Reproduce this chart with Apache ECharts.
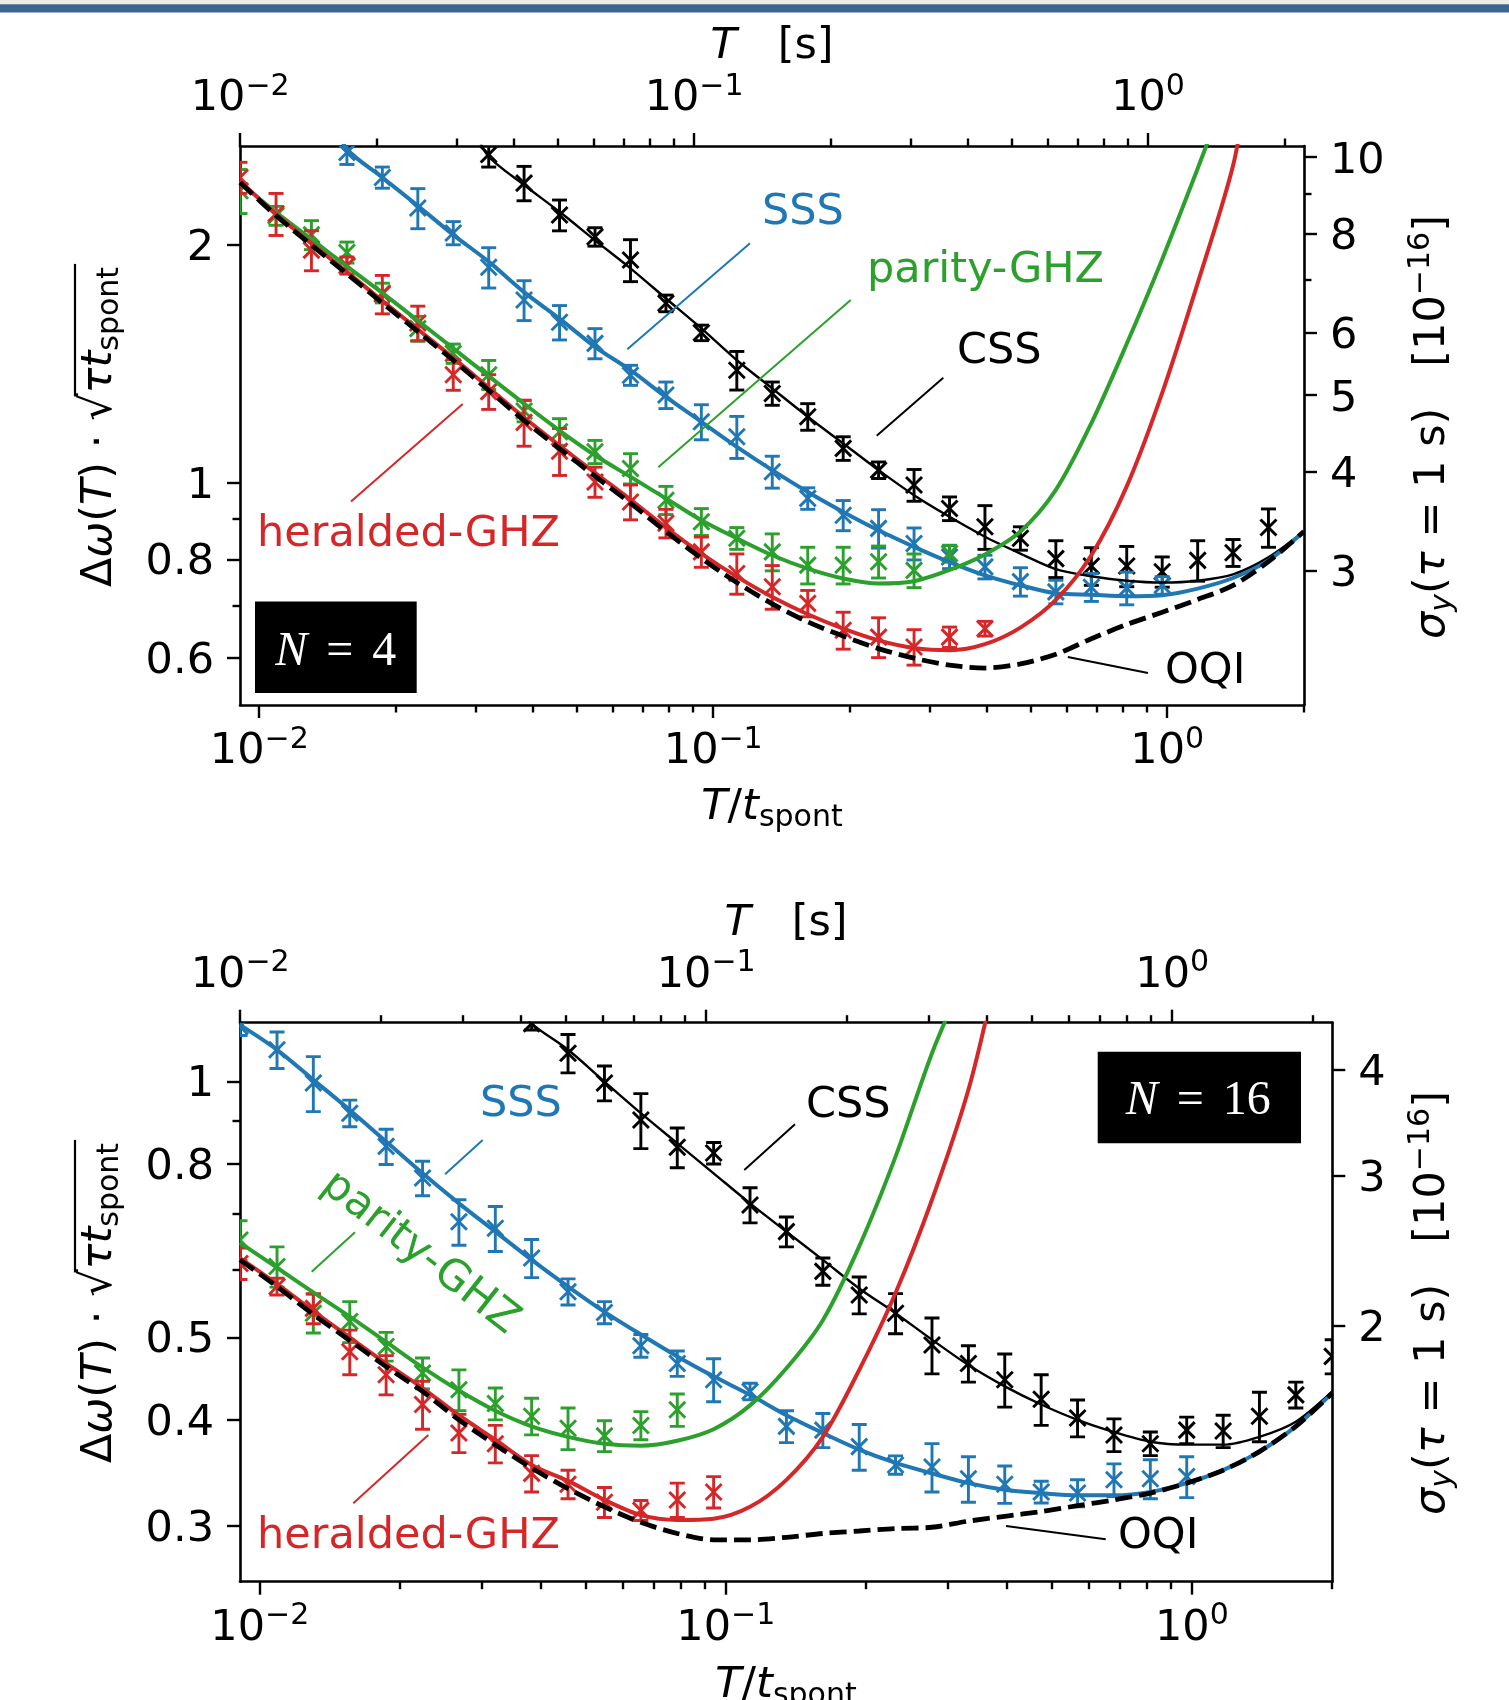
<!DOCTYPE html>
<html><head><meta charset="utf-8">
<script src="https://cdn.jsdelivr.net/npm/echarts@6/dist/echarts.min.js"></script>
<style>html,body{margin:0;padding:0;background:#fff}#c{width:1509px;height:1700px}</style>
</head><body><div id="c"></div><script>
// ---------------- DATA ----------------
// sampling times T/t_spont (shared by both panels)
const T_GRID = [0.00907,0.01089,0.01303,0.01560,0.01867,0.02235,0.02675,0.03202,0.03831,0.04586,0.05490,0.06572,0.07867,0.09415,0.1127,0.1349,0.1615,0.1933,0.2313,0.2769,0.3315,0.3967,0.4749,0.5684,0.6805,0.8143,0.9748,1.167,1.396,1.671,2.0];

// ---- N = 4 measurements (start index into T_GRID) ----
const N4_HER_START = 0;
const N4_HER_Y   = [2.436,2.191,1.971,1.885,1.734,1.594,1.371,1.305,1.193,1.097,1.003,0.946,0.889,0.818,0.768,0.739,0.704,0.651,0.638,0.620,0.638,0.654];
const N4_HER_ERR = [0.11,0.134,0.115,0.047,0.097,0.08,0.061,0.066,0.08,0.075,0.044,0.048,0.037,0.036,0.045,0.047,0.027,0.035,0.037,0.032,0.019,0.014];
const N4_PAR_START = 0;
const N4_PAR_Y   = [2.343,2.179,2.061,1.958,1.74,1.568,1.458,1.371,1.233,1.161,1.095,1.043,0.951,0.893,0.851,0.818,0.787,0.787,0.795,0.775,0.814];
const N4_PAR_ERR = [0.15,0.06,0.087,0.06,0.05,0.057,0.041,0.058,0.038,0.045,0.037,0.046,0.039,0.035,0.027,0.044,0.042,0.042,0.037,0.038,0.02];
const N4_SSS_START = 3;
const N4_SSS_Y   = [2.62,2.436,2.228,2.072,1.875,1.704,1.597,1.502,1.369,1.292,1.195,1.144,1.033,0.956,0.910,0.876,0.838,0.806,0.783,0.750,0.728,0.738,0.736,0.742];
const N4_SSS_ERR = [0.09,0.075,0.13,0.07,0.11,0.099,0.08,0.066,0.04,0.05,0.061,0.07,0.048,0.03,0.04,0.049,0.039,0.027,0.027,0.031,0.025,0.03,0.035,0.019];
const N4_CSS_START = 7;
const N4_CSS_Y   = [2.605,2.396,2.183,2.049,1.915,1.688,1.549,1.389,1.298,1.213,1.106,1.038,0.994,0.928,0.880,0.851,0.802,0.785,0.785,0.772,0.798,0.816,0.878];
const N4_CSS_ERR = [0.094,0.12,0.098,0.055,0.117,0.041,0.035,0.078,0.044,0.047,0.038,0.025,0.046,0.032,0.056,0.029,0.043,0.043,0.046,0.034,0.047,0.032,0.049];

// ---- N = 4 model curves ----
const N4_HER_FIT  = [2.41,2.19,2.01,1.85,1.70,1.565,1.44,1.32,1.21,1.115,1.03,0.953,0.878,0.814,0.761,0.717,0.682,0.654,0.632,0.618,0.614,0.625,0.656,0.711,0.81,0.99,1.30,1.79,2.52];
const N4_HER_TAIL = [[1.50,3.2]];
const N4_PAR_FIT  = [2.40,2.20,2.035,1.88,1.74,1.605,1.48,1.365,1.26,1.165,1.084,1.018,0.956,0.897,0.851,0.810,0.779,0.757,0.746,0.751,0.776,0.812,0.868,0.98];
const N4_PAR_TAIL = [[0.6805,1.19],[0.8143,1.50],[0.9748,1.92],[1.167,2.50],[1.30,2.95]];
const N4_SSS_HEAD = [[0.01477,2.85]];
const N4_SSS_FIT  = [2.646,2.436,2.243,2.061,1.906,1.744,1.614,1.487,1.389,1.285,1.195,1.111,1.038,0.974,0.919,0.871,0.830,0.794,0.764,0.742,0.725,0.722,0.719,0.721,0.735,0.758,0.798,0.868];
const N4_CSS_HEAD = [[0.02979,2.8]];
const N4_CSS_FIT  = [2.589,2.383,2.204,2.028,1.869,1.712,1.569,1.430,1.317,1.213,1.122,1.038,0.965,0.906,0.855,0.814,0.778,0.762,0.752,0.748,0.752,0.766,0.805,0.868];
const N4_OQI      = [2.40,2.18,2.00,1.84,1.69,1.555,1.43,1.31,1.20,1.105,1.02,0.943,0.868,0.803,0.748,0.703,0.667,0.640,0.617,0.600,0.588,0.583,0.590,0.607,0.635,0.662,0.686,0.712,0.742,0.795,0.868];

// ---- N = 16 measurements ----
const N16_HER_START = 0;
const N16_HER_Y   = [0.611,0.574,0.541,0.481,0.452,0.417,0.386,0.375,0.346,0.336,0.320,0.313,0.322,0.329];
const N16_HER_ERR = [0.026,0.013,0.022,0.029,0.024,0.027,0.020,0.019,0.017,0.013,0.013,0.0085,0.015,0.014];
const N16_PAR_START = 0;
const N16_PAR_Y   = [0.651,0.606,0.534,0.522,0.488,0.454,0.434,0.418,0.404,0.391,0.383,0.394,0.411];
const N16_PAR_ERR = [0.035,0.033,0.028,0.029,0.019,0.019,0.024,0.018,0.020,0.022,0.016,0.015,0.018];
const N16_SSS_START = 0;
const N16_SSS_Y   = [1.161,1.090,0.996,0.918,0.839,0.770,0.684,0.672,0.620,0.566,0.535,0.489,0.466,0.446,0.432,0.393,0.389,0.372,0.354,0.352,0.341,0.336,0.329,0.328,0.340,0.341,0.343];
const N16_SSS_ERR = [0.028,0.054,0.074,0.033,0.040,0.036,0.042,0.041,0.032,0.020,0.016,0.015,0.016,0.026,0.0097,0.017,0.018,0.023,0.0088,0.023,0.021,0.017,0.0097,0.012,0.015,0.018,0.019];
const N16_CSS_START = 8;
const N16_CSS_Y   = [1.17,1.080,0.996,0.901,0.837,0.824,0.716,0.666,0.598,0.561,0.534,0.490,0.466,0.446,0.423,0.402,0.384,0.375,0.389,0.388,0.404,0.428,0.475];
const N16_CSS_ERR = [0.02,0.056,0.047,0.067,0.045,0.024,0.034,0.027,0.022,0.028,0.029,0.037,0.023,0.032,0.029,0.020,0.017,0.012,0.014,0.017,0.027,0.015,0.022];

// ---- N = 16 model curves ----
const N16_HER_FIT  = [0.620,0.578,0.537,0.500,0.466,0.436,0.405,0.379,0.354,0.339,0.322,0.309,0.305,0.306,0.316,0.340,0.382,0.458,0.564,0.726,0.978];
const N16_HER_TAIL = [[0.3758,1.30]];
const N16_PAR_FIT  = [0.646,0.604,0.565,0.529,0.494,0.461,0.433,0.410,0.393,0.382,0.375,0.373,0.378,0.390,0.416,0.460,0.524,0.640,0.816,1.08];
const N16_PAR_TAIL = [[0.3197,1.30]];
const N16_SSS_FIT  = [1.166,1.090,1.005,0.926,0.850,0.780,0.719,0.666,0.617,0.574,0.536,0.504,0.475,0.450,0.428,0.405,0.386,0.369,0.356,0.346,0.337,0.331,0.328,0.326,0.326,0.329,0.337,0.349,0.367,0.393,0.430];
const N16_CSS_HEAD = [[0.0363,1.22]];
const N16_CSS_FIT  = [1.17,1.090,1.000,0.918,0.846,0.780,0.719,0.666,0.617,0.571,0.534,0.497,0.464,0.438,0.417,0.400,0.387,0.377,0.374,0.374,0.382,0.398,0.432];
const N16_OQI      = [0.617,0.574,0.532,0.496,0.462,0.432,0.400,0.374,0.351,0.332,0.316,0.303,0.294,0.289,0.289,0.291,0.294,0.296,0.298,0.299,0.304,0.308,0.312,0.317,0.322,0.328,0.337,0.349,0.367,0.393,0.430];

// ---- axes ----
const X_MIN = 0.00907, X_MAX = 2.001;
const T_MIN = 0.00999, T_MAX = 2.206;          // T [s] top axis
const X_MAJOR = [0.01, 0.1, 1];
const X_MINOR = [0.02,0.03,0.04,0.05,0.06,0.07,0.08,0.09,0.2,0.3,0.4,0.5,0.6,0.7,0.8,0.9,2];
const N4_Y_RANGE = [0.5235, 2.670];
const N4_Y_MAJOR = [0.6, 0.8, 1, 2];
const N4_Y_MINOR = [0.7, 0.9];
const N4_R_RANGE = [2.026, 10.333];
const N4_R_MAJOR = [3, 4, 5, 6, 8, 10];
const N4_R_MINOR = [7, 9];
const N16_Y_RANGE = [0.258, 1.173];
const N16_Y_MAJOR = [0.3, 0.4, 0.5, 0.8, 1];
const N16_Y_MINOR = [0.6, 0.7, 0.9];
const N16_R_RANGE = [0.9985, 4.539];
const N16_R_MAJOR = [2, 3, 4];

// ---------------- BUILD ----------------
const FONT = 'DejaVu Sans';
const FS = 43;
const C = {sss:'#1f77b4', par:'#2ca02c', her:'#d62728', css:'#000000'};
const chart = echarts.init(document.getElementById('c'), null, {renderer:'canvas'});

function pts(start, ys, errs){ return ys.map((y,i)=>[T_GRID[start+i], y, y-errs[i], y+errs[i]]); }
function curve(start, ys, head, tail){ return (head||[]).concat(ys.map((y,i)=>[T_GRID[start+i], y]), tail||[]); }

const AX_RICH = {
  b:{fontSize:FS, fontFamily:FONT, color:'#000'},
  s:{fontSize:30, fontFamily:FONT, color:'#000', padding:[0,0,24,0]}
};
function powFmt(v){ const e = Math.round(Math.log10(v)); return '{b|10}{s|' + (e<0?'\u2212':'') + Math.abs(e) + '}'; }
function numFmt(v){ return String(+(+v).toPrecision(3)); }

function ax(g, pos, range, ticks, len, labeled, fmt, margin, line, pad){
  return {gridIndex:g, type:'log', logBase:10, position:pos, min:range[0], max:range[1],
    axisLine:{show:line, onZero:false, lineStyle:{color:'#000', width:2.6}},
    axisTick:{show:true, inside:false, customValues:ticks, length:len, lineStyle:{color:'#000', width:2.4}},
    axisLabel:labeled ? {show:true, customValues:ticks, formatter:fmt, margin:margin, color:'#000',
        fontFamily:FONT, fontSize:FS, rich:AX_RICH, hideOverlap:false, padding:pad||0} : {show:false},
    splitLine:{show:false}, minorTick:{show:false}, minorSplitLine:{show:false}, silent:true};
}

const YPAD = [7,0,0,0];
const xAxis = [
  ax(0,'bottom',[X_MIN,X_MAX],X_MAJOR,13,true,powFmt,20,true),
  ax(0,'bottom',[X_MIN,X_MAX],X_MINOR,7.5,false,null,0,false),
  ax(0,'top',[T_MIN,T_MAX],X_MAJOR,13,true,powFmt,20,true),
  ax(0,'top',[T_MIN,T_MAX],X_MINOR,7.5,false,null,0,false),
  ax(1,'bottom',[X_MIN,X_MAX],X_MAJOR,13,true,powFmt,20,true),
  ax(1,'bottom',[X_MIN,X_MAX],X_MINOR,7.5,false,null,0,false),
  ax(1,'top',[T_MIN,T_MAX],X_MAJOR,13,true,powFmt,20,true),
  ax(1,'top',[T_MIN,T_MAX],X_MINOR,7.5,false,null,0,false)
];
const yAxis = [
  ax(0,'left',N4_Y_RANGE,N4_Y_MAJOR,13,true,numFmt,26,true,YPAD),
  ax(0,'left',N4_Y_RANGE,N4_Y_MINOR,7.5,false,null,0,false),
  ax(0,'right',N4_R_RANGE,N4_R_MAJOR,13,true,numFmt,26,true,[9,0,0,0]),
  ax(0,'right',N4_R_RANGE,N4_R_MINOR,7.5,false,null,0,false),
  ax(1,'left',N16_Y_RANGE,N16_Y_MAJOR,13,true,numFmt,26,true,YPAD),
  ax(1,'left',N16_Y_RANGE,N16_Y_MINOR,7.5,false,null,0,false),
  ax(1,'right',N16_R_RANGE,N16_R_MAJOR,13,true,numFmt,26,true,[9,0,0,0])
];

function errSeries(xi, yi, data, color){
  return {type:'custom', xAxisIndex:xi, yAxisIndex:yi, data:data, encode:{x:0, y:1}, clip:true, z:2, silent:true,
    renderItem:function(params, api){
      const x=api.value(0), y=api.value(1), lo=api.value(2), hi=api.value(3);
      const p=api.coord([x,y]), a=api.coord([x,lo]), b=api.coord([x,hi]);
      const cw=7.5, m=8, st={stroke:color, lineWidth:2.9, fill:null};
      return {type:'group', children:[
        {type:'line', shape:{x1:p[0],y1:a[1],x2:p[0],y2:b[1]}, style:st},
        {type:'line', shape:{x1:p[0]-cw,y1:a[1],x2:p[0]+cw,y2:a[1]}, style:st},
        {type:'line', shape:{x1:p[0]-cw,y1:b[1],x2:p[0]+cw,y2:b[1]}, style:st},
        {type:'line', shape:{x1:p[0]-m,y1:p[1]-m,x2:p[0]+m,y2:p[1]+m}, style:st},
        {type:'line', shape:{x1:p[0]-m,y1:p[1]+m,x2:p[0]+m,y2:p[1]-m}, style:st}
      ]};
    }};
}
function lineSeries(xi, yi, data, color, width, z, dashed){
  return {type:'line', xAxisIndex:xi, yAxisIndex:yi, data:data, symbol:'none', showSymbol:false,
    smooth:0.3, clip:true, silent:true, z:z,
    lineStyle:{color:color, width:width, type: dashed ? [17,7] : 'solid', cap:'butt'}};
}

const series = [
  // N = 4
  errSeries(0,0,pts(N4_CSS_START,N4_CSS_Y,N4_CSS_ERR),C.css),
  errSeries(0,0,pts(N4_SSS_START,N4_SSS_Y,N4_SSS_ERR),C.sss),
  errSeries(0,0,pts(N4_PAR_START,N4_PAR_Y,N4_PAR_ERR),C.par),
  errSeries(0,0,pts(N4_HER_START,N4_HER_Y,N4_HER_ERR),C.her),
  lineSeries(0,0,curve(N4_CSS_START,N4_CSS_FIT,N4_CSS_HEAD),C.css,2.4,3),
  lineSeries(0,0,curve(N4_SSS_START,N4_SSS_FIT,N4_SSS_HEAD),C.sss,4,3),
  lineSeries(0,0,curve(0,N4_PAR_FIT,null,N4_PAR_TAIL),C.par,4,3),
  lineSeries(0,0,curve(0,N4_HER_FIT,null,N4_HER_TAIL),C.her,4,3),
  lineSeries(0,0,curve(0,N4_OQI),'#000',4.8,4,true),
  // N = 16
  errSeries(4,4,pts(N16_CSS_START,N16_CSS_Y,N16_CSS_ERR),C.css),
  errSeries(4,4,pts(N16_SSS_START,N16_SSS_Y,N16_SSS_ERR),C.sss),
  errSeries(4,4,pts(N16_PAR_START,N16_PAR_Y,N16_PAR_ERR),C.par),
  errSeries(4,4,pts(N16_HER_START,N16_HER_Y,N16_HER_ERR),C.her),
  lineSeries(4,4,curve(N16_CSS_START,N16_CSS_FIT,N16_CSS_HEAD),C.css,2.4,3),
  lineSeries(4,4,curve(0,N16_SSS_FIT),C.sss,4,3),
  lineSeries(4,4,curve(0,N16_PAR_FIT,null,N16_PAR_TAIL),C.par,4,3),
  lineSeries(4,4,curve(0,N16_HER_FIT,null,N16_HER_TAIL),C.her,4,3),
  lineSeries(4,4,curve(0,N16_OQI),'#000',4.8,4,true)
];

// ---------------- TEXT / DECORATION ----------------
function R(color){
  return {
    u:{fontSize:FS, fontFamily:FONT, fill:color},
    i:{fontSize:FS, fontFamily:FONT, fontStyle:'italic', fill:color},
    sb:{fontSize:30, fontFamily:FONT, fill:color, padding:[21,0,0,0]},
    sbi:{fontSize:30, fontFamily:FONT, fontStyle:'italic', fill:color, padding:[21,0,0,0]},
    sp:{fontSize:30, fontFamily:FONT, fill:color, padding:[0,0,24,0]}
  };
}
function label(x, y, text, color, align){
  return {type:'text', x:x, y:y, z:50, silent:true,
    style:{text:text, fill:color, fontSize:FS, fontFamily:FONT, align:align||'left', verticalAlign:'middle', rich:R(color)}};
}
function rich(x, y, text, align){
  return {type:'text', x:x, y:y, z:50, silent:true,
    style:{text:text, fill:'#000', fontSize:FS, fontFamily:FONT, align:align||'center', verticalAlign:'middle', rich:R('#000')}};
}
function seg(x1,y1,x2,y2,color){
  return {type:'line', z:50, silent:true, shape:{x1,y1,x2,y2}, style:{stroke:color, lineWidth:2}};
}
function nbox(x,y,w,h,cx,cy,num){
  return {type:'group', z:60, silent:true, children:[
    {type:'rect', shape:{x:x,y:y,width:w,height:h}, style:{fill:'#000'}},
    {type:'text', x:cx, y:cy, style:{text:'{i|N}{e|=}{u|'+num+'}', align:'center', verticalAlign:'middle',
      rich:{i:{fontFamily:'Liberation Serif', fontStyle:'italic', fontSize:48, fill:'#fff'},
            e:{fontFamily:'Liberation Serif', fontSize:48, fill:'#fff', padding:[0,19,0,19]},
            u:{fontFamily:'Liberation Serif', fontSize:48, fill:'#fff'}}}}
  ]};
}
// measured text widths for the sqrt overline
const mctx = document.createElement('canvas').getContext('2d');
function tw(s, f){ mctx.font = f; return mctx.measureText(s).width; }
const fU = FS+'px "'+FONT+'"', fI = 'italic '+FS+'px "'+FONT+'"', fS = '30px "'+FONT+'"';
const wA = tw('\u0394',fU)+tw('\u03c9',fI)+tw('(',fU)+tw('T',fI)+tw(') \u00b7 ',fU);
const wSq = tw('\u221a',fU);
const wB = tw('\u03c4t',fI)+tw('spont',fS);
const wTot = wA+wSq+wB;
function leftLabel(cx, cy){
  const s0 = -wTot/2;
  return {type:'group', x:cx, y:cy, rotation:Math.PI/2, z:50, silent:true, children:[
    {type:'text', x:0, y:0, style:{text:'{u|\u0394}{i|\u03c9}{u|(}{i|T}{u|) \u00b7 \u221a}{i|\u03c4t}{sb|spont}',
      align:'center', verticalAlign:'middle', rich:R('#000')}},
    {type:'line', shape:{x1:s0+wA+wSq-3, y1:-25, x2:s0+wTot+3, y2:-25}, style:{stroke:'#000', lineWidth:2.2}}
  ]};
}
function rightLabel(cx, cy){
  return {type:'group', x:cx, y:cy, rotation:Math.PI/2, z:50, silent:true, children:[
    {type:'text', x:0, y:0, style:{text:'{i|\u03c3}{sbi|y}{u|(}{i|\u03c4}{u| = 1 s)   [10}{sp|\u221216}{u|]}',
      align:'center', verticalAlign:'middle', rich:R('#000')}}
  ]};
}

const graphic = [
  {type:'rect', z:0, shape:{x:0,y:0,width:1509,height:4.3}, style:{fill:'#eeebe3'}},
  {type:'rect', z:0, shape:{x:0,y:4.3,width:1509,height:8.3}, style:{fill:'#3c6591'}},
  // panel 1 axis titles
  rich(772, 47, '{i|T}{u|   [s]}'),
  rich(772, 808, '{i|T}{u|/}{i|t}{sb|spont}'),
  leftLabel(100, 427),
  rightLabel(1433, 427),
  // panel 2 axis titles
  rich(786, 924, '{i|T}{u|   [s]}'),
  rich(786, 1686, '{i|T}{u|/}{i|t}{sb|spont}'),
  leftLabel(100, 1303),
  rightLabel(1433, 1303),
  // panel 1 annotations
  label(762, 213, 'SSS', C.sss), seg(750,243.3,627.3,349.3,C.sss),
  label(867, 271, 'parity-GHZ', C.par), seg(850.7,300,658.3,467.3,C.par),
  label(957, 352, 'CSS', C.css), seg(943.3,377.7,876.7,435.7,C.css),
  label(257, 535, 'heralded-GHZ', C.her), seg(462.7,404,351,501.6,C.her),
  label(1165, 672, 'OQI', '#000'), seg(1067.8,657,1148,673,'#000'),
  nbox(255,601.4,161.7,91.5,335.8,652,'4'),
  // panel 2 annotations
  label(480, 1105, 'SSS', C.sss), seg(482.7,1140,445,1174.3,C.sss),
  {type:'text', x:420, y:1253, rotation:-38*Math.PI/180, z:50, silent:true,
    style:{text:'parity-GHZ', fill:C.par, fontSize:FS, fontFamily:FONT, align:'center', verticalAlign:'middle'}},
  seg(355,1232.3,311.7,1271.7,C.par),
  label(806, 1106, 'CSS', C.css), seg(795,1124.3,744.3,1170,C.css),
  label(257, 1537, 'heralded-GHZ', C.her), seg(428.3,1435,353.3,1503.3,C.her),
  label(1118, 1537, 'OQI', '#000'), seg(1006,1526,1105.7,1539.3,'#000'),
  nbox(1097.7,1051.7,203.3,91.6,1198.3,1101,'16')
];

chart.setOption({
  animation:false,
  backgroundColor:'#ffffff',
  grid:[
    {left:240, top:146, width:1064, height:559, containLabel:false},
    {left:240, top:1022.7, width:1092.3, height:559, containLabel:false}
  ],
  xAxis:xAxis, yAxis:yAxis, series:series, graphic:graphic
});
</script></body></html>
